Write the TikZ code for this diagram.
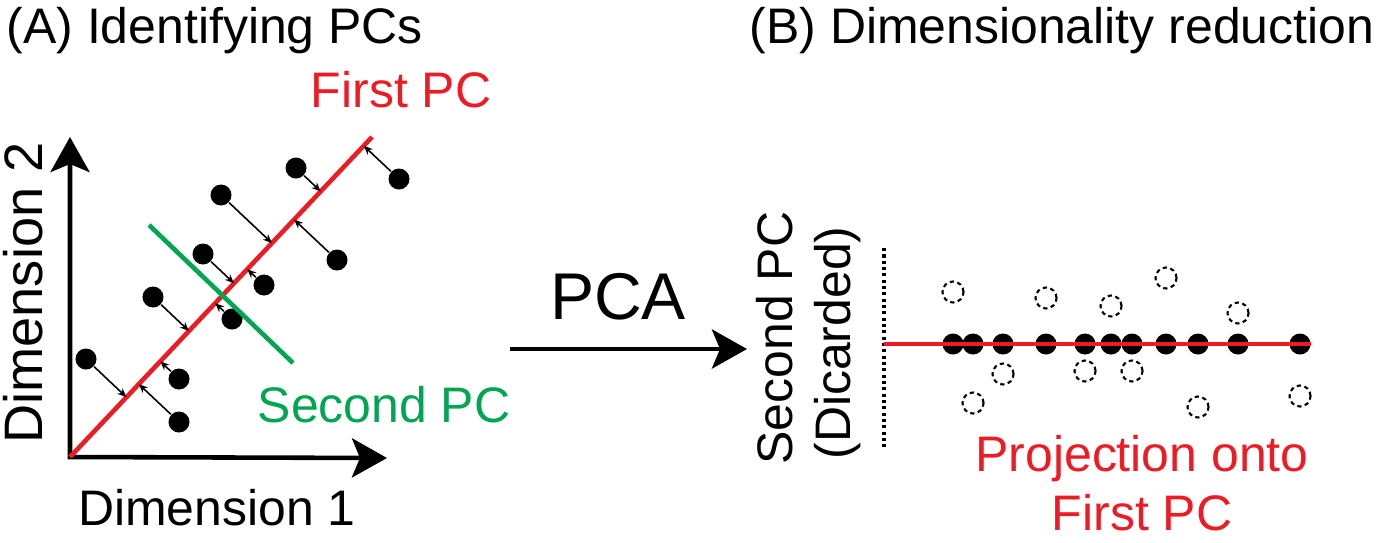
\documentclass[tikz,border=0pt]{standalone}
\usepackage{fontspec}
\setmainfont{Liberation Sans}
\usetikzlibrary{arrows.meta}
\usetikzlibrary{calc}
\definecolor{pcred}{RGB}{237,28,36}
\definecolor{pcgreen}{RGB}{0,166,81}
\tikzset{
    bigtip/.tip={Stealth[length=0.35cm,width=0.39cm,inset=0.08cm]},
    lbl/.style={inner sep=0, font=\fontsize{14.2}{16.5}\selectfont},
    dot/.style={fill, circle, inner sep=0, minimum size=0.21cm},
    ghost/.style={draw, circle, inner sep=0, minimum size=0.21cm, line width=0.6pt, dash pattern=on 1.2pt off 1pt},
    axis/.style={line width=1.3pt, bigtip-bigtip},
    pcline/.style={line width=1.3pt},
    proj/.style={line width=0.45pt, -{Stealth[length=0.09cm,width=0.075cm]}}
}

\begin{document}
\begin{tikzpicture}[x=0.01cm, y=-0.01cm]
    \useasboundingbox (0,0) rectangle (1380,542);
    \def\pts{296/168, 399/179, 221/195, 337/260, 203/254, 264/285, 153/297, 232/319, 86/359, 179/379, 179/422}
    \def\flat{953/292, 973/403, 1003/374, 1046/298, 1085/371, 1111/306, 1132/371, 1166/278, 1198/407, 1238/313, 1300/396}
    % (A)
    \node[lbl, anchor=base west] at (6,43) (titleA) {(A) Identifying PCs};
    \coordinate (o) at (70,457);
    \coordinate (ytip) at (70,137);
    \coordinate (xtip) at (387,458);
    \draw[axis] (ytip) -- (o) -- (xtip);
    \node[lbl, rotate=90, anchor=base, font=\fontsize{15.4}{18}\selectfont] at (42,293) (dim2) {Dimension 2};
    \node[lbl, anchor=base] at (217,525) (dim1) {Dimension 1};
    \coordinate (pc1) at (372,137);
    \draw[pcline, pcred] (o) -- (pc1);
    \node[lbl, pcred, anchor=base] at (401,107) (pc1lbl) {First PC};
    \foreach \x/\y [count=\i] in \pts{
        \node[dot] at (\x,\y) (d\i) {};
        \coordinate (p\i) at ($(o)!(d\i)!(pc1)$);
        \draw[proj] (d\i) -- (p\i);
    }
    \coordinate (pc2a) at (149,225);
    \coordinate (pc2b) at (293,363);
    \draw[pcline, pcgreen] (pc2a) -- (pc2b);
    \node[lbl, pcgreen, anchor=base] at (384,422) (pc2lbl) {Second PC};
    % PCA
    \coordinate (a0) at (510,349);
    \coordinate (a1) at (747,349);
    \draw[line width=1.3pt, -bigtip] (a0) -- (a1);
    \node[lbl, anchor=base, font=\fontsize{18.8}{22}\selectfont] at (618,319) (pca) {PCA};
    % (B)
    \node[lbl, anchor=base west] at (749,43) (titleB) {(B) Dimensionality reduction};
    \node[lbl, rotate=90, anchor=base] at (792,338) (sec) {Second PC};
    \node[lbl, rotate=90, anchor=base] at (850,343) (disc) {(Dicarded)};
    \coordinate (v0) at (884,248);
    \coordinate (v1) at (884,448);
    \draw[line width=1pt, dash pattern=on 0.9pt off 0.9pt] (v0) -- (v1);
    \foreach \x/\y [count=\i] in \flat{
        \node[ghost] at (\x,\y) (g\i) {};
        \node[dot] at (\x,344) (f\i) {};
    }
    \coordinate (r0) at (884,344);
    \coordinate (r1) at (1311,344);
    \draw[pcline, pcred] (r0) -- (r1);
    \node[lbl, pcred, align=center, anchor=base] at (1142,530) (projlbl) {Projection onto\\First PC};
\end{tikzpicture}
\end{document}
